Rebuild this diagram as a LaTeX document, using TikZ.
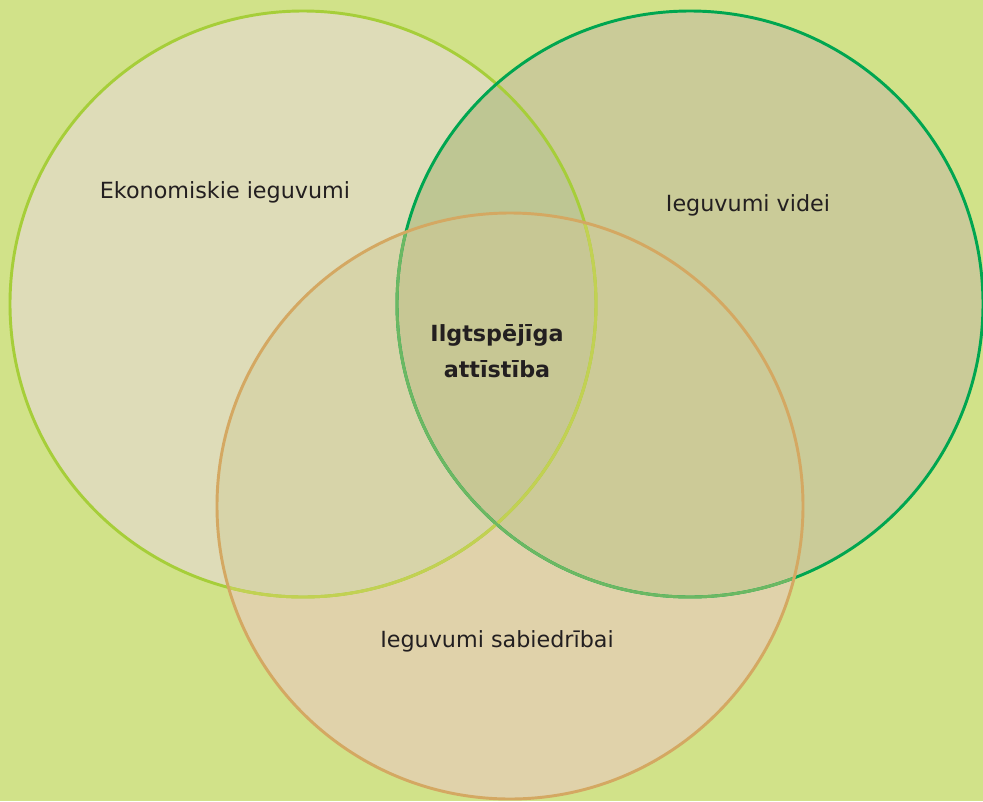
\documentclass[tikz,border=0pt]{standalone}
\usepackage{fontspec}
\setmainfont{DejaVu Sans}
\definecolor{bgc}{HTML}{D1E289}
\definecolor{lonly}{HTML}{DEDCB8}
\definecolor{ronly}{HTML}{CACB98}
\definecolor{bonly}{HTML}{E0D2AA}
\definecolor{lrc}{HTML}{BEC693}
\definecolor{lbc}{HTML}{D7D4A9}
\definecolor{rbc}{HTML}{CCCA97}
\definecolor{lrbc}{HTML}{C7C794}
\definecolor{lstroke}{HTML}{A6CE39}
\definecolor{lstrokef}{HTML}{C2D152}
\definecolor{rstroke}{HTML}{00A650}
\definecolor{rstrokef}{HTML}{6CB862}
\definecolor{bstroke}{HTML}{D4A862}
\definecolor{txt}{HTML}{231F20}
\tikzset{
  lbl/.style={text=txt, font=\fontsize{16.7}{20}\selectfont, anchor=base, inner sep=0pt},
  blbl/.style={lbl, font=\fontsize{16.7}{20}\selectfont\bfseries},
  ring/.style={line width=2.2pt},
}
\begin{document}
\begin{tikzpicture}[x=0.75pt,y=-0.75pt]
\def\R{219.75pt}
\fill[bgc] (0,0) rectangle (983,801);
\useasboundingbox (0,0) rectangle (983,801);
\coordinate (L) at (303,304);
\coordinate (Rc) at (690,304);
\coordinate (B) at (510,506);
% base fills
\fill[lonly] (L) circle[radius=\R];
\fill[ronly] (Rc) circle[radius=\R];
\fill[bonly] (B) circle[radius=\R];
% overlaps
\begin{scope}\clip (L) circle[radius=\R]; \fill[lrc] (Rc) circle[radius=\R]; \end{scope}
\begin{scope}\clip (L) circle[radius=\R]; \fill[lbc] (B) circle[radius=\R]; \end{scope}
\begin{scope}\clip (Rc) circle[radius=\R]; \fill[rbc] (B) circle[radius=\R]; \end{scope}
\begin{scope}\clip (L) circle[radius=\R]; \clip (Rc) circle[radius=\R]; \fill[lrbc] (B) circle[radius=\R]; \end{scope}
% strokes
\draw[ring, lstroke] (L) circle[radius=\R];
\draw[ring, rstroke] (Rc) circle[radius=\R];
\begin{scope}\clip (B) circle[radius=\R];
\draw[ring, lstrokef] (L) circle[radius=\R];
\draw[ring, rstrokef] (Rc) circle[radius=\R];
\end{scope}
\draw[ring, bstroke] (B) circle[radius=\R];
% labels
\node[lbl] (econ) at (225,198) {Ekonomiskie ieguvumi};
\node[lbl] (env) at (748,211) {Ieguvumi videi};
\node[lbl] (soc) at (497,647) {Ieguvumi sabiedrībai};
\node[blbl] (c1) at (497,341) {Ilgtspējīga};
\node[blbl] (c2) at (497,377) {attīstība};
\end{tikzpicture}
\end{document}
